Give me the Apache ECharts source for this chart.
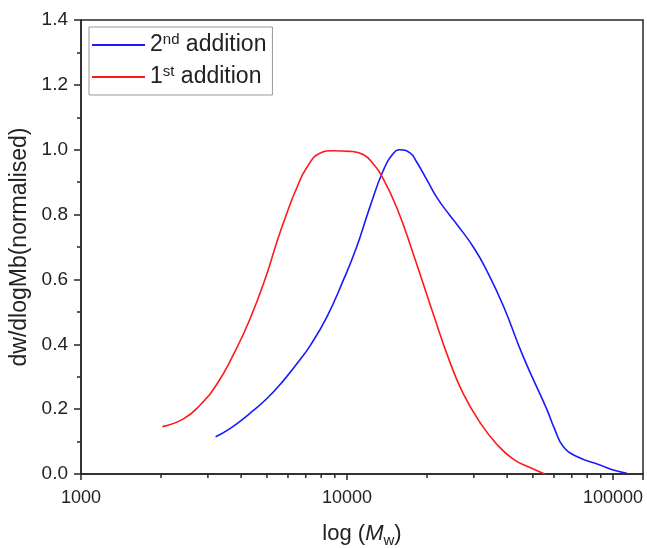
<!DOCTYPE html>
<html>
<head>
<meta charset="utf-8">
<script src="https://cdn.jsdelivr.net/npm/echarts@6/dist/echarts.min.js"></script>
<style>
html,body{margin:0;padding:0;background:#fff;}
#chart{width:647px;height:548px;}
</style>
</head>
<body>
<div id="chart"></div>
<script>
// Molecular weight (Mw) values
const mwFirst = [2023, 2427, 2799, 3236, 3741, 4315, 4989, 5445, 5929, 6471, 7063, 7907, 8872, 10257, 11508, 12561, 13490, 15382, 17742, 21086, 24378, 27353, 31623, 36559, 42170, 48753, 55463];
const yFirst  = [0.146, 0.170, 0.212, 0.276, 0.368, 0.477, 0.615, 0.715, 0.802, 0.882, 0.945, 0.989, 0.997, 0.995, 0.985, 0.956, 0.920, 0.822, 0.679, 0.494, 0.345, 0.248, 0.159, 0.092, 0.046, 0.020, 0.0];

const mwSecond = [3206, 3631, 4315, 4989, 5768, 6653, 7261, 8395, 9683, 10864, 12190, 13677, 14928, 15812, 17258, 18281, 19953, 21727, 24378, 25823, 29854, 33497, 38726, 46026, 56364, 60256, 65013, 73114, 89337, 100230, 112720];
const ySecond  = [0.115, 0.140, 0.187, 0.232, 0.288, 0.352, 0.395, 0.484, 0.597, 0.699, 0.823, 0.935, 0.988, 1.0, 0.990, 0.962, 0.908, 0.854, 0.797, 0.771, 0.700, 0.628, 0.518, 0.361, 0.200, 0.140, 0.085, 0.054, 0.028, 0.012, 0.002];

const seriesNames = ['2nd addition', '1st addition'];
const xMajorTicks = [1000, 10000, 100000];
const xMinorTicks = [2000, 3000, 4000, 5000, 6000, 7000, 8000, 9000, 20000, 30000, 40000, 50000, 60000, 70000, 80000, 90000];

const FONT = '"Liberation Sans", Arial, Helvetica, sans-serif';
const AX = '#262626';
const TX = '#222222';

const chart = echarts.init(document.getElementById('chart'), null, {renderer: 'canvas'});

function isMajor(v) {
  return xMajorTicks.some(t => Math.abs(v - t) / t < 1e-6);
}

const option = {
  animation: false,
  backgroundColor: '#ffffff',
  grid: {
    left: 81, right: 4, top: 20, bottom: 74,
    outerBoundsMode: 'none',
    containLabel: false,
    show: true, borderColor: AX, borderWidth: 1.5, backgroundColor: 'transparent'
  },
  legend: {
    data: seriesNames.map(n => ({name: n, icon: 'rect'})),
    orient: 'vertical',
    left: 89, top: 27,
    padding: [5, 6, 5, 3],
    itemGap: 6,
    itemWidth: 53,
    itemHeight: 2,
    borderColor: '#999999',
    borderWidth: 1,
    backgroundColor: '#ffffff',
    formatter: function (name) {
      if (name === '2nd addition') return '2{sup|nd} addition';
      return '1{sup|st} addition';
    },
    textStyle: {
      fontFamily: FONT, fontSize: 23, color: TX, lineHeight: 26,
      rich: {
        sup: {fontFamily: FONT, fontSize: 15, color: TX, lineHeight: 14, verticalAlign: 'top'}
      }
    }
  },
  xAxis: {
    type: 'log',
    logBase: 10,
    min: 1000,
    max: 129700,
    name: 'log ({i|M}{sub|w})',
    nameLocation: 'middle',
    nameGap: 46,
    nameTextStyle: {
      fontFamily: FONT, fontSize: 22, color: TX, lineHeight: 28,
      rich: {
        i: {fontFamily: FONT, fontSize: 22, fontStyle: 'italic', color: TX, lineHeight: 28},
        sub: {fontFamily: FONT, fontSize: 15, color: TX, lineHeight: 15, verticalAlign: 'bottom'}
      }
    },
    axisLine: {show: true, lineStyle: {color: AX, width: 1.5}},
    axisTick: {show: true, inside: false, length: 6, lineStyle: {color: AX, width: 1.5}},
    minorTick: {show: false},
    splitLine: {show: false},
    axisLabel: {
      fontFamily: FONT, fontSize: 18, color: TX, margin: 15,
      formatter: function (v) { return isMajor(v) ? String(Math.round(v)) : ''; }
    }
  },
  yAxis: {
    type: 'value',
    min: 0, max: 1.4, interval: 0.2,
    name: 'dw/dlogMb(normalised)',
    nameLocation: 'middle',
    nameGap: 48,
    nameTextStyle: {fontFamily: FONT, fontSize: 23, color: TX},
    axisLine: {show: true, lineStyle: {color: AX, width: 1.5}},
    axisTick: {show: true, inside: false, length: 7, lineStyle: {color: AX, width: 1.5}},
    minorTick: {show: true, splitNumber: 2, length: 4, lineStyle: {color: AX, width: 1.5}},
    splitLine: {show: false},
    axisLabel: {
      fontFamily: FONT, fontSize: 19, color: TX, margin: 13,
      formatter: function (v) { return v.toFixed(1); }
    }
  },
  series: [
    {
      name: seriesNames[0],
      type: 'line',
      data: mwSecond.map((m, i) => [m, ySecond[i]]),
      symbol: 'none',
      smooth: 0.5,
      lineStyle: {color: '#1a1aff', width: 1.6},
      itemStyle: {color: '#1a1aff'}
    },
    {
      name: seriesNames[1],
      type: 'line',
      data: mwFirst.map((m, i) => [m, yFirst[i]]),
      symbol: 'none',
      smooth: 0.5,
      lineStyle: {color: '#ff1a1a', width: 1.6},
      itemStyle: {color: '#ff1a1a'}
    },
    {
      name: 'minorTicks',
      type: 'custom',
      silent: true,
      clip: false,
      data: xMinorTicks.map(v => [v, 0]),
      renderItem: function (params, api) {
        const p = api.coord([api.value(0), 0]);
        return {
          type: 'line',
          shape: {x1: p[0], y1: p[1], x2: p[0], y2: p[1] + 4},
          style: {stroke: AX, lineWidth: 1.5}
        };
      }
    }
  ]
};

chart.setOption(option);
</script>
</body>
</html>
